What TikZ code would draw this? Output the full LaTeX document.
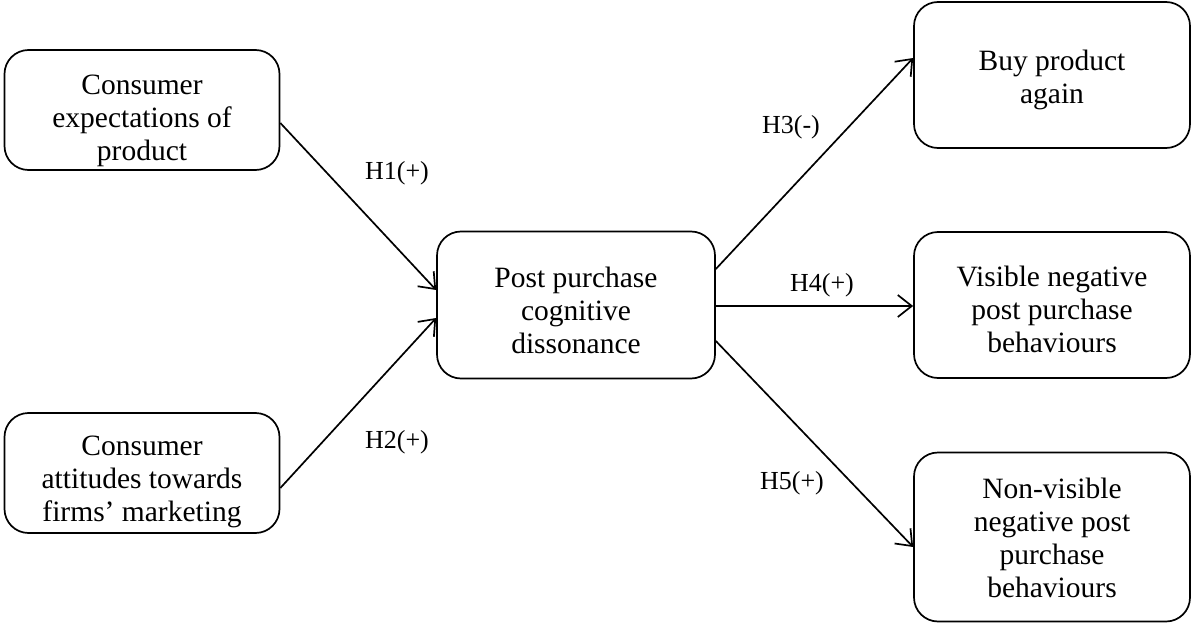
\documentclass[tikz,border=0pt]{standalone}
\usepackage{fontspec}
\setmainfont{Liberation Serif}
\usetikzlibrary{arrows.meta}
\begin{document}
\begin{tikzpicture}[x=1pt,y=-1pt,
  box/.style={draw,line width=1.7pt,rounded corners=24pt,inner sep=0pt},
  txt/.style={align=center,inner sep=0pt,font=\fontsize{29.5}{33}\selectfont},
  hlab/.style={inner sep=0pt,font=\fontsize{26}{30}\selectfont},
  arr/.style={line width=1.7pt,-{Straight Barb[length=14pt,width=22pt,line width=1.7pt]}}]
\useasboundingbox (0,0) rectangle (1192,626);
\node[box,minimum width=275pt,minimum height=120pt] (A) at (142,110) {};
\node[box,minimum width=275pt,minimum height=120pt] (B) at (142,473) {};
\node[box,minimum width=278pt,minimum height=147pt] (C) at (576,305) {};
\node[box,minimum width=276pt,minimum height=146pt] (D) at (1052,75) {};
\node[box,minimum width=276pt,minimum height=146pt] (E) at (1052,305) {};
\node[box,minimum width=276pt,minimum height=169pt] (F) at (1052,537) {};
\node[txt] (At) at (142,121) {Consumer\\expectations of\\product};
\node[txt] (Bt) at (142,482) {Consumer\\attitudes towards\\firms’ marketing};
\node[txt] (Ct) at (576,310) {Post purchase\\cognitive\\dissonance};
\node[txt] (Dt) at (1052,80) {Buy product\\again};
\node[txt] (Et) at (1052,309) {Visible negative\\post purchase\\behaviours};
\node[txt] (Ft) at (1052,538) {Non-visible\\negative post\\purchase\\behaviours};
\coordinate (a1) at (A.east |- 0,123);
\coordinate (c1) at (C.west |- 0,290);
\coordinate (b1) at (B.east |- 0,488);
\coordinate (c2) at (C.west |- 0,318);
\coordinate (c3) at (C.east |- 0,269);
\coordinate (d1) at (D.west |- 0,58);
\coordinate (c4) at (C.east |- 0,306);
\coordinate (e1) at (E.west |- 0,306);
\coordinate (c5) at (C.east |- 0,341);
\coordinate (f1) at (F.west |- 0,547);
\draw[arr] (a1) -- (c1);
\draw[arr] (b1) -- (c2);
\draw[arr] (c3) -- (d1);
\draw[arr] (c4) -- (e1);
\draw[arr] (c5) -- (f1);
\node[hlab] (h1) at (397,173) {H1(+)};
\node[hlab] (h2) at (397,442) {H2(+)};
\node[hlab] (h3) at (791,127) {H3(-)};
\node[hlab] (h4) at (822,285) {H4(+)};
\node[hlab] (h5) at (792,483) {H5(+)};
\end{tikzpicture}
\end{document}
